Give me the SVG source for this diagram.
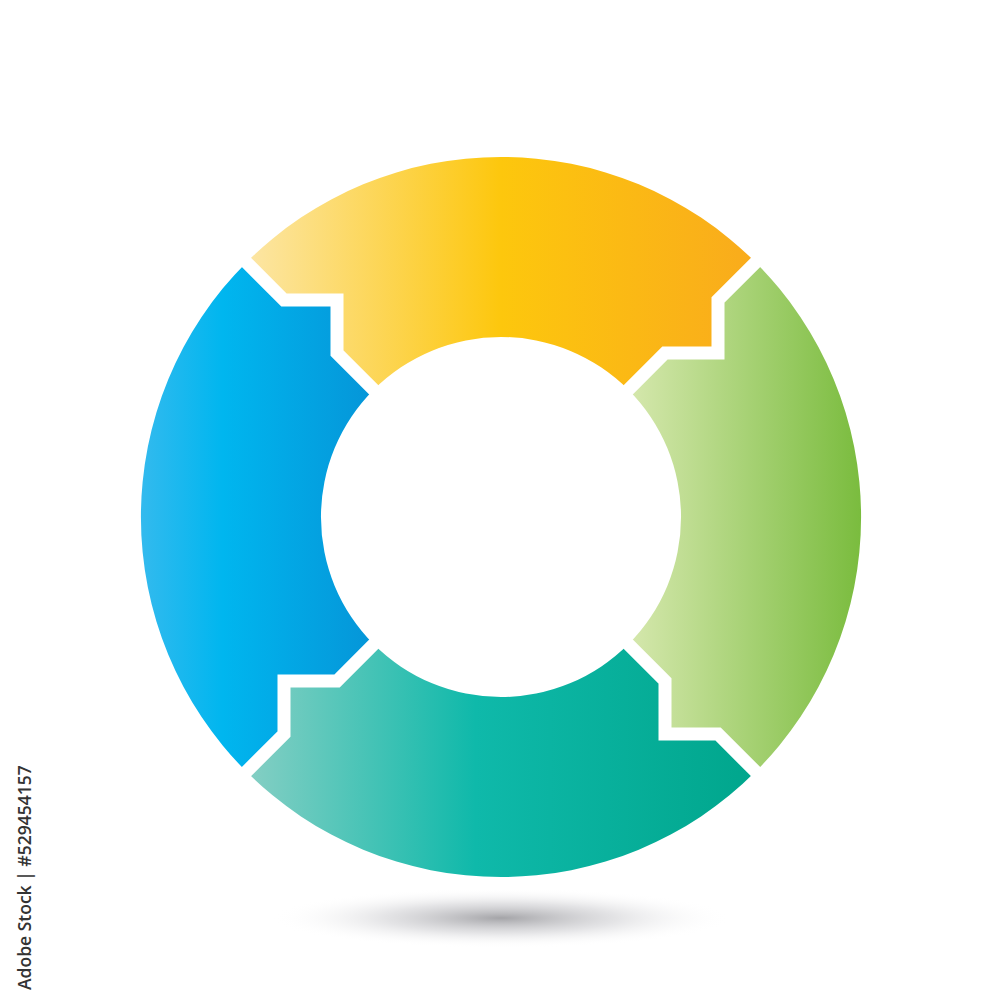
<svg xmlns="http://www.w3.org/2000/svg" width="1000" height="1000" viewBox="0 0 1000 1000">
  <defs>
    <linearGradient id="gYellow" gradientUnits="userSpaceOnUse" x1="246" y1="0" x2="756" y2="0">
      <stop offset="0" stop-color="#FCE6A6"/>
      <stop offset="0.5" stop-color="#FDC70D"/>
      <stop offset="1" stop-color="#F9AB1C"/>
    </linearGradient>
    <linearGradient id="gGreen" gradientUnits="userSpaceOnUse" x1="628" y1="0" x2="861" y2="0">
      <stop offset="0" stop-color="#D6E8AE"/>
      <stop offset="1" stop-color="#7ABC3E"/>
    </linearGradient>
    <linearGradient id="gTeal" gradientUnits="userSpaceOnUse" x1="246" y1="0" x2="756" y2="0">
      <stop offset="0" stop-color="#86CFC4"/>
      <stop offset="0.45" stop-color="#0FB9AA"/>
      <stop offset="1" stop-color="#00A68C"/>
    </linearGradient>
    <linearGradient id="gBlue" gradientUnits="userSpaceOnUse" x1="141" y1="0" x2="374" y2="0">
      <stop offset="0" stop-color="#33BAEE"/>
      <stop offset="0.35" stop-color="#00B6EF"/>
      <stop offset="1" stop-color="#0595D8"/>
    </linearGradient>
    <radialGradient id="gShadow" cx="0.5" cy="0.5" r="0.5">
      <stop offset="0" stop-color="#9a9a9e" stop-opacity="0.9"/>
      <stop offset="0.5" stop-color="#c8c8cc" stop-opacity="0.5"/>
      <stop offset="1" stop-color="#ffffff" stop-opacity="0"/>
    </radialGradient>
    <style>
      .gap { fill: none; stroke: #ffffff; stroke-width: 13; stroke-linejoin: miter; stroke-miterlimit: 10; }
      .label { font-family: "Open Sans", "Liberation Sans", sans-serif; font-size: 17.5px; font-weight: 600; fill: #333333; }
    </style>
  </defs>
  <rect x="0" y="0" width="1000" height="1000" fill="#ffffff"/>
  <ellipse cx="501" cy="918" rx="230" ry="30" fill="url(#gShadow)"/>

  <g id="segment-top">
    <path fill="url(#gYellow)" d="M246.4,262.4 A360,360 0 0 1 755.6,262.4 L718,300 L718,353 L665,353 L628.3,389.7 A180,180 0 0 0 373.7,389.7 L337,353 L337,300 L284,300 Z"/>
  </g>
  <g id="segment-right">
    <path fill="url(#gGreen)" d="M755.6,262.4 A360,360 0 0 1 755.6,771.6 L718,734 L665,734 L665,681 L628.3,644.3 A180,180 0 0 0 628.3,389.7 L665,353 L718,353 L718,300 Z"/>
  </g>
  <g id="segment-bottom">
    <path fill="url(#gTeal)" d="M755.6,771.6 A360,360 0 0 1 246.4,771.6 L284,734 L284,681 L337,681 L373.7,644.3 A180,180 0 0 0 628.3,644.3 L665,681 L665,734 L718,734 Z"/>
  </g>
  <g id="segment-left">
    <path fill="url(#gBlue)" d="M246.4,771.6 A360,360 0 0 1 246.4,262.4 L284,300 L337,300 L337,353 L373.7,389.7 A180,180 0 0 0 373.7,644.3 L337,681 L284,681 L284,734 Z"/>
  </g>

  <g id="connectors">
    <polyline class="gap" points="380.8,396.8 337,353 337,300 284,300 236,252"/>
    <polyline class="gap" points="621.2,396.8 665,353 718,353 718,300 766,252"/>
    <polyline class="gap" points="621.2,637.2 665,681 665,734 718,734 766,782"/>
    <polyline class="gap" points="380.8,637.2 337,681 284,681 284,734 236,782"/>
  </g>

  <text class="label" transform="translate(31,990) rotate(-90)">Adobe Stock | #529454157</text>
</svg>
